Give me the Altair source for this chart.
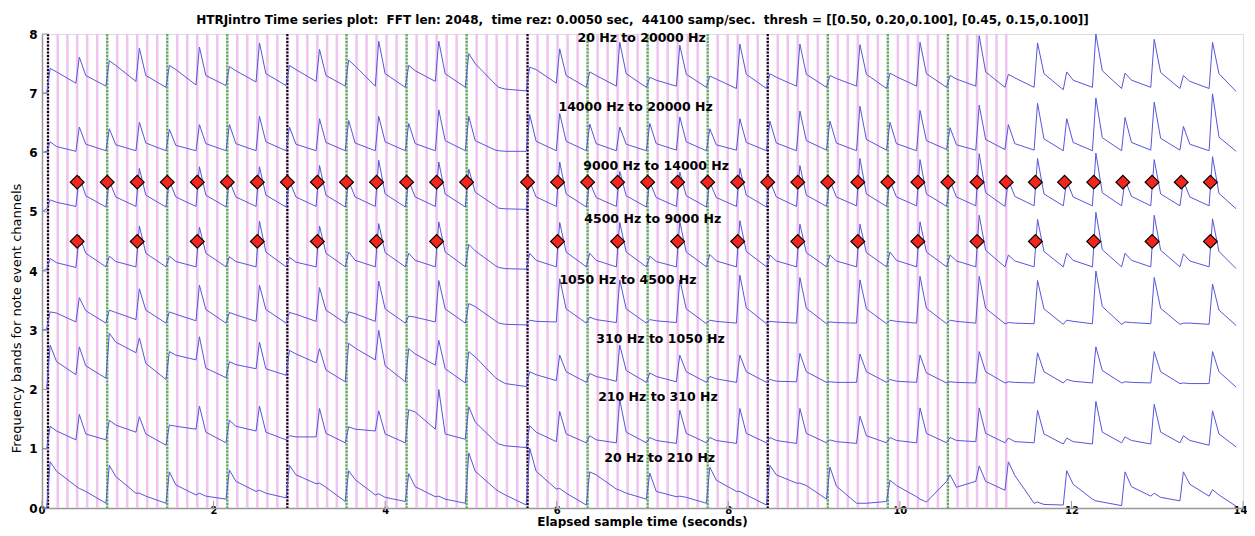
import altair as alt
import pandas as pd

# ---------------- data ----------------
BEATS = [0.07, 0.41, 0.76, 1.11, 1.46, 1.81, 2.16, 2.51, 2.86, 3.21, 3.55, 3.90, 4.25, 4.60,
         4.95, 5.30, 5.66, 6.01, 6.36, 6.71, 7.06, 7.41, 7.76, 8.11, 8.46, 8.81, 9.16, 9.51,
         9.86, 10.21, 10.56, 10.90, 11.24, 11.58, 11.92, 12.26, 12.60, 12.94, 13.28, 13.62]
GREEN_BEATS = [2, 4, 6, 10, 12, 14, 18, 20, 22, 26, 28, 30]
BLACK_BEATS = [0, 8, 16, 24]
LAST_GRID_BEAT = 32
ROW55_BEATS = [1, 2, 3, 4, 5, 6, 7, 8, 9, 10, 11, 12, 13, 14, 16, 17, 18, 19, 20, 21, 22, 23,
               24, 25, 26, 27, 28, 29, 30, 31, 32, 33, 34, 35, 36, 37, 38, 39]
ROW45_BEATS = [1, 3, 5, 7, 9, 11, 13, 17, 19, 21, 23, 25, 27, 29, 31, 33, 35, 37, 39]
SERIES_END_T = 13.92

BAND_LABELS = ["20 Hz to 210 Hz", "210 Hz to 310 Hz", "310 Hz to 1050 Hz", "1050 Hz to 4500 Hz",
               "4500 Hz to 9000 Hz", "9000 Hz to 14000 Hz", "14000 Hz to 20000 Hz", "20 Hz to 20000 Hz"]
LABEL_T = [7.20, 7.18, 7.21, 6.83, 7.12, 7.16, 6.92, 6.99]
LABEL_Y = [0.84, 1.87, 2.86, 3.845, 4.885, 5.77, 6.77, 7.93]

XTICKS = [0, 2, 4, 6, 8, 10, 12, 14]
YTICKS = [0, 1, 2, 3, 4, 5, 6, 7, 8]

# per band: value just before each beat (F), peak (P), value ~0.1 s after beat (M)
P7 = [0.42, 0.61, 0.55, 0.76, 0.47, 0.78, 0.45, 0.85, 0.47, 0.74, 0.56, 0.88, 0.47, 0.88, 0.67, 0.10, 0.44, 0.75, 0.36, 0.86,
      0.27, 0.81, 0.29, 0.83, 0.33, 0.83, 0.30, 0.82, 0.34, 0.86, 0.30, 0.97, 0.32, 0.85, 0.36, 1.00, 0.34, 0.91, 0.30, 0.86]
M7 = [0.36, 0.30, 0.47, 0.30, 0.40, 0.30, 0.38, 0.33, 0.40, 0.30, 0.46, 0.33, 0.38, 0.33, 0.50, 0.07, 0.40, 0.30, 0.30, 0.33,
      0.22, 0.32, 0.24, 0.32, 0.27, 0.32, 0.25, 0.32, 0.28, 0.33, 0.24, 0.36, 0.26, 0.33, 0.22, 0.38, 0.22, 0.35, 0.20, 0.33]
F7 = [0.00, 0.17, 0.12, 0.20, 0.10, 0.14, 0.13, 0.19, 0.13, 0.20, 0.12, 0.12, 0.10, 0.20, 0.10, 0.15, 0.04, 0.17, 0.10, 0.12,
      0.10, 0.12, 0.10, 0.08, 0.08, 0.12, 0.10, 0.12, 0.08, 0.12, 0.10, 0.12, 0.10, 0.10, 0.06, 0.10, 0.08, 0.10, 0.08, 0.08]

P6 = [0.18, 0.43, 0.40, 0.51, 0.39, 0.47, 0.47, 0.61, 0.43, 0.57, 0.54, 0.61, 0.49, 0.72, 0.61, 0.03, 0.64, 0.66, 0.48, 0.43,
      0.49, 0.60, 0.40, 0.57, 0.53, 0.70, 0.53, 0.78, 0.51, 0.71, 0.42, 0.80, 0.47, 0.83, 0.57, 0.92, 0.59, 0.85, 0.44, 0.99]
M6 = [0.10, 0.14, 0.13, 0.16, 0.12, 0.15, 0.15, 0.18, 0.14, 0.17, 0.16, 0.18, 0.15, 0.20, 0.20, 0.02, 0.19, 0.19, 0.15, 0.14,
      0.15, 0.18, 0.13, 0.17, 0.16, 0.20, 0.16, 0.22, 0.15, 0.20, 0.13, 0.22, 0.15, 0.23, 0.17, 0.25, 0.17, 0.24, 0.14, 0.26]
F6 = [0.02, 0.02, 0.03, 0.03, 0.03, 0.03, 0.03, 0.03, 0.03, 0.03, 0.03, 0.03, 0.03, 0.03, 0.03, 0.04, 0.02, 0.03, 0.03, 0.03,
      0.03, 0.04, 0.03, 0.04, 0.03, 0.03, 0.04, 0.03, 0.04, 0.03, 0.05, 0.04, 0.05, 0.04, 0.03, 0.03, 0.03, 0.04, 0.04, 0.03]

P5 = [0.20, 0.60, 0.52, 0.73, 0.52, 0.76, 0.52, 0.76, 0.52, 0.78, 0.52, 0.87, 0.52, 0.84, 0.72, 0.06, 0.52, 0.84, 0.50, 0.68,
      0.50, 0.67, 0.50, 0.73, 0.52, 0.78, 0.52, 0.90, 0.52, 0.88, 0.52, 0.98, 0.54, 0.90, 0.52, 0.99, 0.54, 0.88, 0.52, 0.93]
M5 = [0.16, 0.27, 0.25, 0.28, 0.25, 0.28, 0.25, 0.28, 0.25, 0.28, 0.25, 0.30, 0.25, 0.30, 0.33, 0.05, 0.25, 0.30, 0.24, 0.27,
      0.24, 0.27, 0.24, 0.28, 0.25, 0.28, 0.25, 0.30, 0.25, 0.30, 0.25, 0.32, 0.26, 0.30, 0.25, 0.32, 0.26, 0.30, 0.25, 0.31]
F5 = [0.05, 0.09, 0.08, 0.09, 0.08, 0.09, 0.08, 0.09, 0.08, 0.09, 0.08, 0.09, 0.08, 0.09, 0.08, 0.10, 0.04, 0.09, 0.08, 0.09,
      0.08, 0.09, 0.08, 0.09, 0.08, 0.09, 0.09, 0.10, 0.09, 0.10, 0.09, 0.10, 0.09, 0.10, 0.10, 0.10, 0.10, 0.10, 0.10, 0.10]

P4 = [0.21, 0.60, 0.25, 0.76, 0.25, 0.74, 0.24, 0.84, 0.23, 0.76, 0.32, 0.80, 0.30, 0.83, 0.45, 0.06, 0.30, 0.82, 0.30, 0.82,
      0.25, 0.83, 0.28, 0.85, 0.27, 0.79, 0.27, 0.79, 0.32, 0.83, 0.27, 0.94, 0.27, 0.87, 0.30, 0.99, 0.30, 0.94, 0.29, 0.88]
M4 = [0.14, 0.30, 0.16, 0.30, 0.16, 0.30, 0.16, 0.32, 0.15, 0.30, 0.18, 0.31, 0.18, 0.32, 0.34, 0.04, 0.18, 0.32, 0.18, 0.32,
      0.16, 0.32, 0.17, 0.33, 0.17, 0.31, 0.17, 0.31, 0.18, 0.32, 0.17, 0.35, 0.17, 0.33, 0.18, 0.36, 0.18, 0.35, 0.17, 0.33]
F4 = [0.03, 0.06, 0.07, 0.07, 0.07, 0.07, 0.07, 0.07, 0.07, 0.07, 0.07, 0.07, 0.07, 0.07, 0.07, 0.09, 0.03, 0.07, 0.07, 0.07,
      0.07, 0.07, 0.07, 0.07, 0.07, 0.07, 0.07, 0.07, 0.07, 0.07, 0.07, 0.07, 0.07, 0.07, 0.07, 0.07, 0.07, 0.07, 0.07, 0.07]

P3 = [0.31, 0.55, 0.34, 0.70, 0.31, 0.76, 0.30, 0.76, 0.30, 0.72, 0.31, 0.83, 0.24, 0.84, 0.45, 0.12, 0.17, 0.87, 0.22, 0.85,
      0.18, 0.85, 0.17, 0.93, 0.15, 0.89, 0.14, 0.85, 0.17, 0.91, 0.17, 0.91, 0.13, 0.84, 0.17, 1.00, 0.14, 0.89, 0.12, 0.78]
M3 = [0.29, 0.33, 0.30, 0.34, 0.27, 0.35, 0.26, 0.35, 0.27, 0.34, 0.28, 0.36, 0.22, 0.36, 0.40, 0.10, 0.15, 0.36, 0.18, 0.36,
      0.16, 0.36, 0.15, 0.38, 0.14, 0.37, 0.13, 0.36, 0.15, 0.37, 0.15, 0.37, 0.12, 0.36, 0.15, 0.40, 0.13, 0.37, 0.12, 0.34]
F3 = [0.02, 0.14, 0.12, 0.18, 0.12, 0.16, 0.12, 0.15, 0.12, 0.15, 0.12, 0.15, 0.12, 0.14, 0.12, 0.16, 0.09, 0.14, 0.12, 0.13,
      0.12, 0.13, 0.11, 0.12, 0.11, 0.12, 0.11, 0.12, 0.11, 0.12, 0.11, 0.12, 0.11, 0.11, 0.10, 0.11, 0.10, 0.11, 0.10, 0.10]

P2 = [0.75, 0.72, 0.95, 0.87, 0.64, 0.89, 0.47, 0.80, 0.66, 0.69, 0.78, 1.00, 0.69, 0.83, 0.64, 0.16, 0.30, 0.58, 0.27, 0.75,
      0.28, 0.58, 0.22, 0.58, 0.17, 0.61, 0.13, 0.60, 0.17, 0.58, 0.13, 0.64, 0.13, 0.62, 0.17, 0.72, 0.13, 0.64, 0.11, 0.64]
M2 = [0.47, 0.40, 0.80, 0.44, 0.58, 0.36, 0.42, 0.35, 0.60, 0.33, 0.70, 0.40, 0.60, 0.35, 0.55, 0.10, 0.25, 0.30, 0.22, 0.32,
      0.22, 0.30, 0.18, 0.30, 0.14, 0.30, 0.12, 0.30, 0.14, 0.28, 0.12, 0.30, 0.12, 0.30, 0.14, 0.32, 0.12, 0.30, 0.10, 0.30]
F2 = [0.00, 0.25, 0.19, 0.62, 0.17, 0.50, 0.20, 0.35, 0.24, 0.45, 0.13, 0.50, 0.13, 0.41, 0.11, 0.20, 0.05, 0.15, 0.12, 0.14,
      0.12, 0.13, 0.12, 0.12, 0.12, 0.13, 0.12, 0.12, 0.12, 0.12, 0.11, 0.11, 0.11, 0.11, 0.11, 0.11, 0.11, 0.11, 0.10, 0.10]

P1 = [0.38, 0.58, 0.48, 0.54, 0.40, 0.72, 0.48, 0.72, 0.22, 0.68, 0.37, 0.64, 0.66, 1.00, 0.71, 0.08, 0.39, 0.63, 0.22, 0.83,
      0.19, 0.65, 0.19, 0.68, 0.19, 0.68, 0.15, 0.55, 0.19, 0.69, 0.19, 0.69, 0.18, 0.65, 0.18, 0.80, 0.20, 0.75, 0.22, 0.64]
M1 = [0.30, 0.25, 0.40, 0.25, 0.38, 0.28, 0.38, 0.28, 0.20, 0.26, 0.33, 0.25, 0.62, 0.25, 0.45, 0.05, 0.28, 0.25, 0.15, 0.28,
      0.14, 0.26, 0.14, 0.26, 0.14, 0.26, 0.12, 0.22, 0.14, 0.26, 0.14, 0.26, 0.12, 0.25, 0.12, 0.28, 0.14, 0.28, 0.14, 0.25]
F1 = [0.00, 0.15, 0.15, 0.28, 0.06, 0.33, 0.10, 0.30, 0.15, 0.20, 0.10, 0.30, 0.10, 0.33, 0.16, 0.12, 0.02, 0.12, 0.10, 0.10,
      0.10, 0.09, 0.10, 0.09, 0.10, 0.09, 0.10, 0.09, 0.10, 0.10, 0.10, 0.12, 0.10, 0.10, 0.08, 0.08, 0.10, 0.08, 0.10, 0.06]

P0 = [0.78, 0.33, 0.72, 0.25, 0.61, 0.25, 0.64, 0.30, 0.72, 0.42, 0.63, 0.24, 0.58, 0.20, 0.93, 0.28, 1.01, 0.33, 0.61, 0.30,
      0.59, 0.20, 0.69, 0.28, 0.72, 0.42, 0.69, 0.08, 0.47, 0.15, 0.56, 0.71, 0.78, 0.10, 0.63, 0.12, 0.61, 0.25, 0.61, 0.31]
M0 = [0.62, 0.28, 0.53, 0.20, 0.39, 0.20, 0.45, 0.25, 0.56, 0.35, 0.48, 0.18, 0.36, 0.15, 0.62, 0.22, 0.62, 0.25, 0.56, 0.25,
      0.28, 0.18, 0.47, 0.22, 0.56, 0.38, 0.37, 0.08, 0.38, 0.10, 0.35, 0.45, 0.55, 0.06, 0.40, 0.10, 0.36, 0.18, 0.40, 0.22]
F0 = [0.00, 0.37, 0.08, 0.25, 0.08, 0.22, 0.15, 0.28, 0.17, 0.41, 0.11, 0.22, 0.11, 0.19, 0.08, 0.32, 0.05, 0.32, 0.05, 0.32,
      0.15, 0.19, 0.08, 0.28, 0.05, 0.42, 0.15, 0.08, 0.11, 0.19, 0.45, 0.45, 0.30, 0.08, 0.05, 0.15, 0.04, 0.20, 0.12, 0.20]

START_V = [0.0, 0.0, 0.0, 0.0, 0.0, 0.0, 0.0, 0.0]
END_V = [0.03, 0.03, 0.04, 0.08, 0.04, 0.05, 0.02, 0.03]

BANDS = [(P0, M0, F0), (P1, M1, F1), (P2, M2, F2), (P3, M3, F3),
         (P4, M4, F4), (P5, M5, F5), (P6, M6, F6), (P7, M7, F7)]

TITLE = ("HTRJintro Time series plot: \u00a0FFT len: 2048, \u00a0time rez: 0.0050 sec, \u00a044100 samp/sec. "
         "\u00a0thresh = [[0.50, 0.20,0.100], [0.45, 0.15,0.100]]")

# ---------------- tables ----------------
rows = []
order = 0
for k, (P, M, F) in enumerate(BANDS):
    rows.append({"band": k, "o": order, "t": 0.0, "v": k + START_V[k]}); order += 1
    for i, b in enumerate(BEATS):
        for dt, val in ((-0.015, F[i]), (0.025, P[i]), (0.10, M[i])):
            rows.append({"band": k, "o": order, "t": b + dt, "v": k + val}); order += 1
    rows.append({"band": k, "o": order, "t": SERIES_END_T, "v": k + END_V[k]}); order += 1
series_df = pd.DataFrame(rows)

sub = []
for i in range(LAST_GRID_BEAT):
    a, c = BEATS[i], BEATS[i + 1]
    sub += [a, a + (c - a) / 3, a + 2 * (c - a) / 3]
sub.append(BEATS[LAST_GRID_BEAT])
magenta_df = pd.DataFrame({"t": sub})
green_df = pd.DataFrame({"t": [BEATS[i] for i in GREEN_BEATS]})
black_df = pd.DataFrame({"t": [BEATS[i] for i in BLACK_BEATS]})
dia_df = pd.DataFrame({"t": [BEATS[i] for i in ROW55_BEATS] + [BEATS[i] for i in ROW45_BEATS],
                       "v": [5.5] * len(ROW55_BEATS) + [4.5] * len(ROW45_BEATS)})
lab_df = pd.DataFrame({"t": LABEL_T, "v": LABEL_Y, "label": BAND_LABELS})
xt_df = pd.DataFrame({"t": XTICKS})
yt_df = pd.DataFrame({"v": YTICKS[1:]})

# ---------------- chart ----------------
XS = alt.Scale(domain=[0, 14], nice=False, zero=False)
YS = alt.Scale(domain=[0, 8], nice=False, zero=False)
FONT = "DejaVu Sans"
xaxis = alt.Axis(values=XTICKS, title="Elapsed sample time (seconds)", grid=False, ticks=False,
                 labelFont=FONT, labelFontWeight="bold", labelFontSize=10, labelColor="black",
                 labelPadding=-2.5, labelFlush=True, labelFlushOffset=4,
                 titleFont=FONT, titleFontWeight="bold", titleFontSize=12,
                 titleColor="black", titleX=600, titleY=13.5, titleBaseline="middle",
                 domainColor="#999999", domainWidth=1.5)
yaxis = alt.Axis(values=YTICKS, title="Frequency bands for note event channels", grid=False, ticks=False,
                 labelFont=FONT, labelFontWeight="bold", labelFontSize=12, labelColor="black",
                 labelPadding=5, titleFont=FONT, titleFontWeight="normal", titleFontSize=13,
                 titleColor="black", titleX=-26, titleY=284, titleAngle=-90, titleAlign="center",
                 titleBaseline="middle", domainColor="#999999", domainWidth=1.5)

x_enc = alt.X("t:Q", scale=XS, axis=xaxis)
y_enc = alt.Y("v:Q", scale=YS, axis=yaxis)

magenta = alt.Chart(magenta_df).mark_rule(color="#efc4ef", strokeWidth=2.5).encode(x=x_enc)
green = alt.Chart(green_df).mark_rule(color="#3cbf3c", strokeWidth=2.2, strokeDash=[2, 1.5]).encode(x=x_enc)
black = alt.Chart(black_df).mark_rule(color="#000000", strokeWidth=2.2, strokeDash=[2, 1.5]).encode(x=x_enc)

lines = alt.Chart(series_df).mark_line(color="#5656dc", strokeWidth=1, interpolate="linear").encode(
    x=x_enc, y=y_enc, detail="band:N", order="o:Q")

diamonds = alt.Chart(dia_df).mark_point(shape="diamond", filled=True, fill="#f2261c", fillOpacity=1,
                                        stroke="black", strokeWidth=1.2, size=190, opacity=1).encode(x=x_enc, y=y_enc)

labels = alt.Chart(lab_df).mark_text(font=FONT, fontWeight="bold", fontSize=12.5, color="black",
                                     align="center", baseline="middle").encode(x=x_enc, y=y_enc, text="label:N")

xticks = alt.Chart(xt_df).mark_rule(color="#999999", strokeWidth=1).encode(
    x=x_enc, y=alt.value(474), y2=alt.value(467))
yticks = alt.Chart(yt_df).mark_rule(color="#999999", strokeWidth=1).encode(
    y=y_enc, x=alt.value(0), x2=alt.value(7))

chart = alt.layer(magenta, green, black, lines, diamonds, labels, xticks, yticks).properties(
    width=1201, height=474,
    title=alt.TitleParams(TITLE, font=FONT, fontWeight="bold", fontSize=12, color="black",
                          anchor="middle", frame="group", offset=1),
    autosize=alt.AutoSizeParams(type="none"),
    padding={"left": 34, "top": 26, "right": 4, "bottom": 20},
).configure_view(stroke=None).configure(background="white")

chart.save("out.html", embed_options={"renderer": "svg", "actions": False})
